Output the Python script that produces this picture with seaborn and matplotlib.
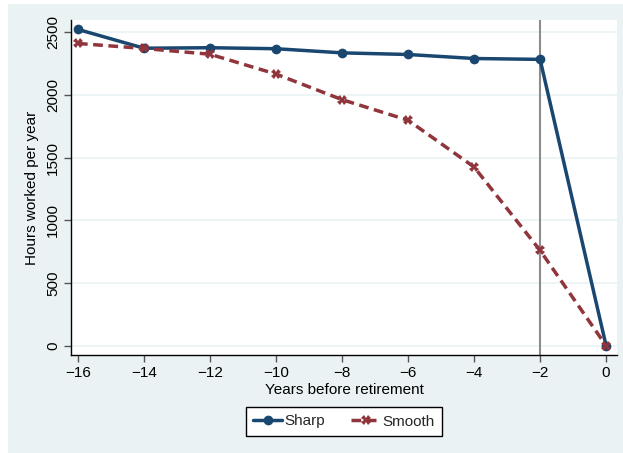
import matplotlib
matplotlib.use("Agg")
import matplotlib.pyplot as plt
import matplotlib.patches as mpatches
import seaborn as sns
import pandas as pd

years = [-16, -14, -12, -10, -8, -6, -4, -2, 0]
sharp = [2522, 2372, 2376, 2368, 2335, 2322, 2290, 2283, 0]
smooth = [2410, 2370, 2324, 2166, 1962, 1798, 1425, 760, 0]
series_names = ["Sharp", "Smooth"]
y_ticks = [0, 500, 1000, 1500, 2000, 2500]
x_ticks = [-16, -14, -12, -10, -8, -6, -4, -2, 0]

df = pd.DataFrame({
    "year": years * 2,
    "hours": sharp + smooth,
    "profile": [series_names[0]] * len(years) + [series_names[1]] * len(years),
})

navy = "#1A476F"
maroon = "#90353B"
panel = "#EAF2F3"
lw = 2.5
dash = (2.8, 1.6)

sns.set_theme(style="white")
plt.rcParams["font.family"] = ["Liberation Sans", "DejaVu Sans"]

fig = plt.figure(figsize=(6.23, 4.53), dpi=100, facecolor="white")
fig.patches.append(mpatches.Rectangle((8 / 623, 0), 1 - 8 / 623, 1 - 4 / 453,
                                      transform=fig.transFigure, facecolor=panel,
                                      edgecolor="none", zorder=-10))
ax = fig.add_axes([71 / 623, 1 - 355 / 453, (617 - 71) / 623, (355 - 20) / 453])
ax.set_zorder(2)
ax.set_facecolor("white")

sns.lineplot(data=df, x="year", y="hours", hue="profile", style="profile",
             palette={"Sharp": navy, "Smooth": maroon},
             markers={"Sharp": "o", "Smooth": "X"},
             dashes={"Sharp": "", "Smooth": dash},
             markersize=7, markeredgewidth=0, linewidth=lw, ax=ax,
             legend=False, zorder=3)

ax.axvline(-2, color="#8C8C8C", linewidth=1.5, zorder=2)

ax.set_xlim(-16.21, 0.33)
ax.set_ylim(-74, 2597)
ax.set_xticks(x_ticks)
ax.set_xticklabels([("\u2212" + str(-v)) if v < 0 else str(v) for v in x_ticks])
ax.set_yticks(y_ticks)
ax.set_yticklabels([str(v) for v in y_ticks], rotation=90, va="center")
ax.yaxis.grid(True, color=panel, linewidth=1.2)
ax.xaxis.grid(False)

for side in ["top", "right"]:
    ax.spines[side].set_visible(False)
for side in ["left", "bottom"]:
    ax.spines[side].set_color("black")
    ax.spines[side].set_linewidth(1.0)

ax.tick_params(axis="both", which="major", direction="out", length=5, width=1,
               color="#555555", labelsize=11, labelcolor="black", pad=3,
               left=True, bottom=True)
ax.set_xlabel("Years before retirement", fontsize=11, color="black", labelpad=2)
ax.set_ylabel("Hours worked per year", fontsize=11, color="black", labelpad=5)

handles = [
    plt.Line2D([], [], color=navy, linewidth=lw, marker="o", markersize=7,
               markeredgewidth=0),
    plt.Line2D([], [], color=maroon, linewidth=lw, linestyle=(0, dash),
               marker="X", markersize=7, markeredgewidth=0),
]
leg = fig.legend(handles, series_names, loc="center",
                 bbox_to_anchor=(344 / 623, 1 - 421.5 / 453), ncol=2,
                 frameon=True, fancybox=False, fontsize=11, handlelength=1.9,
                 handletextpad=0.15, columnspacing=1.7, borderpad=0.5)
leg.get_frame().set_edgecolor("black")
leg.get_frame().set_linewidth(1.0)
leg.get_frame().set_facecolor("white")
leg.get_frame().set_alpha(1)

fig.savefig("out.png", dpi=100, facecolor=fig.get_facecolor())
